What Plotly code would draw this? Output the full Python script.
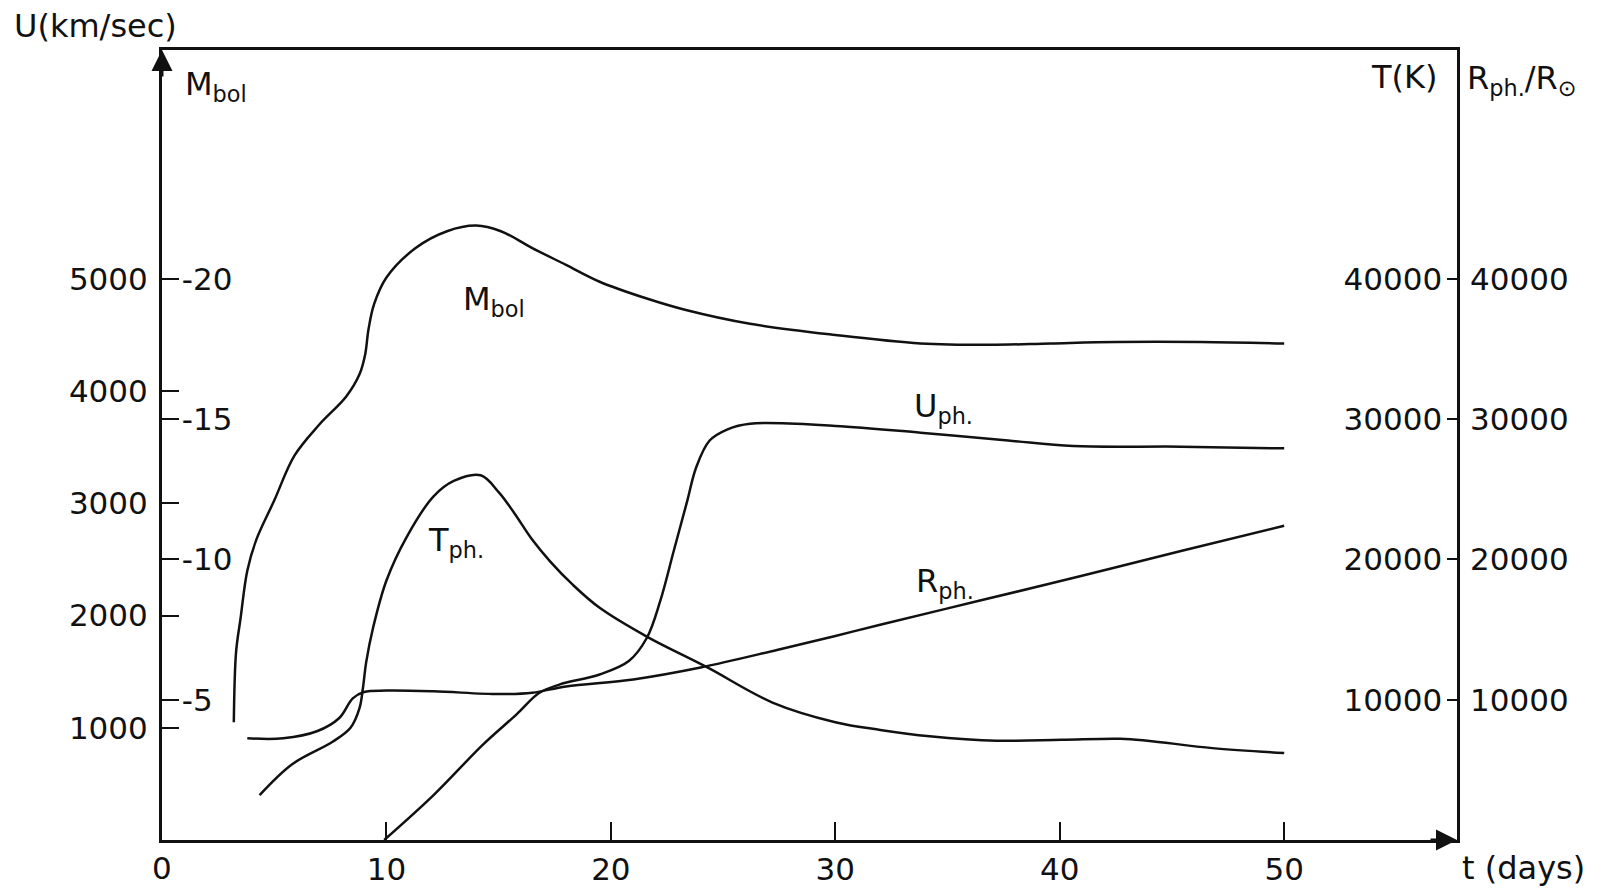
import plotly.graph_objects as go

# tick values
t_ticks = [0, 10, 20, 30, 40, 50]
u_ticks = [1000, 2000, 3000, 4000, 5000]
m_ticks = [-20, -15, -10, -5]
k_ticks = [10000, 20000, 30000, 40000]

# bolometric magnitude M_bol
t_mbol = [3.2, 3.3, 3.5, 3.8, 4.2, 5.0, 5.9, 7.0, 8.2, 8.8, 9.05, 9.2, 9.45, 10.0, 11.3, 12.7, 14.0,
          15.1, 16.5, 18.0, 19.5, 21.6, 23.3, 26.2, 30.0, 33.8, 36.9, 39.6, 42.5, 46.3, 50.0]
mbol = [-4.2, -6.7, -7.9, -9.6, -10.7, -12.1, -13.7, -14.8, -15.8, -16.6, -17.3, -18.2, -19.1, -20.05,
        -21.1, -21.7, -21.9, -21.7, -21.1, -20.5, -19.9, -19.3, -18.9, -18.4, -18.0, -17.7, -17.65,
        -17.7, -17.75, -17.75, -17.7]

# photospheric temperature T_ph (K)
t_temp = [4.35, 5.8, 7.6, 8.4, 8.8, 8.95, 9.1, 9.4, 10.0, 10.9, 12.1, 13.0, 14.2, 15.0, 15.7, 16.5,
          17.3, 18.3, 19.5, 21.6, 24.3, 27.2, 30.0, 32.0, 34.2, 37.2, 40.1, 42.7, 43.9, 46.8, 50.0]
temp = [3200, 5400, 7000, 8000, 9400, 10800, 12700, 15100, 18500, 21600, 24500, 25600, 26000, 24800,
        23300, 21400, 19850, 18200, 16550, 14500, 12300, 9800, 8400, 7850, 7400, 7080, 7150, 7220,
        7080, 6550, 6200]

# photospheric radius R_ph / R_sun
t_rad = [3.8, 5.4, 6.9, 7.9, 8.5, 9.0, 10.0, 12.1, 15.0, 16.5, 18.0, 21.0, 24.0, 27.4, 30.0, 32.0,
         36.4, 40.9, 45.4, 50.0]
rad = [7250, 7250, 7750, 8700, 10100, 10550, 10650, 10600, 10400, 10500, 10950, 11450, 12300, 13550,
       14550, 15350, 17050, 18800, 20600, 22400]

# photospheric velocity U_ph (km/sec)
t_vel = [9.9, 12.1, 14.3, 15.8, 16.8, 17.7, 19.5, 20.8, 21.6, 22.2, 22.8, 23.4, 23.8, 24.4, 25.2,
         26.2, 30.0, 33.8, 37.7, 40.6, 45.4, 50.0]
vel = [0, 400, 850, 1120, 1310, 1385, 1475, 1595, 1800, 2130, 2575, 3020, 3320, 3560, 3660, 3710,
       3690, 3630, 3560, 3510, 3505, 3490]

ink = '#111111'
fnt = 'DejaVu Sans'
t_max = 57.7
u_max = 7040  # top of the box, same height for all four scales
curve = dict(color=ink, width=2.5, shape='spline', smoothing=1.0)

fig = go.Figure()
fig.add_trace(go.Scatter(x=t_mbol, y=mbol, yaxis='y2', mode='lines', line=curve, name='Mbol'))
fig.add_trace(go.Scatter(x=t_temp, y=temp, yaxis='y3', mode='lines', line=curve, name='Tph'))
fig.add_trace(go.Scatter(x=t_rad, y=rad, yaxis='y4', mode='lines', line=curve, name='Rph'))
fig.add_trace(go.Scatter(x=t_vel, y=vel, yaxis='y', mode='lines', line=curve, name='Uph'))

tick_font = dict(family=fnt, size=31, color=ink)

fig.update_layout(
    width=1611,
    height=888,
    showlegend=False,
    paper_bgcolor='white',
    plot_bgcolor='white',
    margin=dict(l=162, r=154, t=50, b=48),
    font=dict(family=fnt, size=31, color=ink),
    xaxis=dict(range=[0, t_max], tickvals=t_ticks[1:], ticks='inside', ticklen=18, tickwidth=2,
               tickcolor=ink, showline=True, linewidth=3, linecolor=ink, mirror=True,
               showgrid=False, zeroline=False, tickfont=tick_font, ticklabelstandoff=0,
               automargin=False),
    yaxis=dict(range=[0, u_max], tickvals=u_ticks, ticks='inside', ticklen=17, tickwidth=2,
               tickcolor=ink, showline=True, linewidth=3, linecolor=ink, mirror=True,
               showgrid=False, zeroline=False, tickfont=tick_font, ticklabelstandoff=5,
               automargin=False),
    yaxis2=dict(range=[0, -u_max / 250], overlaying='y', side='left', anchor='x',
                tickvals=m_ticks, ticktext=[str(m) for m in m_ticks], ticks='inside', ticklen=17,
                tickwidth=2, tickcolor=ink, ticklabelposition='inside', ticklabelstandoff=6,
                showline=False, showgrid=False, zeroline=False, tickfont=tick_font,
                automargin=False),
    yaxis3=dict(range=[0, u_max * 8], overlaying='y', side='right', anchor='x',
                tickvals=k_ticks, ticktext=[str(k) for k in k_ticks], ticks='inside', ticklen=10,
                tickwidth=2, tickcolor=ink, ticklabelposition='inside', ticklabelstandoff=8,
                showline=False, showgrid=False, zeroline=False, tickfont=tick_font,
                automargin=False),
    yaxis4=dict(range=[0, u_max * 8], overlaying='y', side='right', anchor='x',
                tickvals=k_ticks, ticktext=[str(k) for k in k_ticks], ticks='', showline=False,
                showgrid=False, zeroline=False, tickfont=tick_font, ticklabelstandoff=12,
                automargin=False),
)

# axis arrows
fig.add_annotation(x=0, y=u_max, xref='x', yref='y', ax=0, ay=28, text='', showarrow=True,
                   arrowhead=2, arrowsize=1.4, arrowwidth=3, arrowcolor=ink)
fig.add_annotation(x=t_max, y=0, xref='x', yref='y', ax=-28, ay=0, text='', showarrow=True,
                   arrowhead=2, arrowsize=1.4, arrowwidth=3, arrowcolor=ink)

# origin label (plotly drops the tick label sitting on the y axis line)
fig.add_annotation(x=t_ticks[0], y=-0.035, xref='x', yref='paper', text=str(t_ticks[0]),
                   showarrow=False, xanchor='center', yanchor='middle', font=tick_font)

# axis titles
fig.add_annotation(x=-0.116, y=1.03, xref='paper', yref='paper', text='U(km/sec)',
                   showarrow=False, xanchor='left', yanchor='middle', font=dict(size=32))
fig.add_annotation(x=0.016, y=0.955, xref='paper', yref='paper', text='M<sub>bol</sub>',
                   showarrow=False, xanchor='left', yanchor='middle', font=dict(size=32))
fig.add_annotation(x=0.987, y=0.966, xref='paper', yref='paper', text='T(K)',
                   showarrow=False, xanchor='right', yanchor='middle', font=dict(size=32))
fig.add_annotation(x=1.006, y=0.962, xref='paper', yref='paper', text='R<sub>ph.</sub>/R<sub>⊙</sub>',
                   showarrow=False, xanchor='left', yanchor='middle', font=dict(size=32))
fig.add_annotation(x=1.002, y=-0.035, xref='paper', yref='paper', text='t (days)',
                   showarrow=False, xanchor='left', yanchor='middle', font=dict(size=32))

# curve labels
fig.add_annotation(x=13.3, y=4800, xref='x', yref='y', text='M<sub>bol</sub>',
                   showarrow=False, xanchor='left', yanchor='middle', font=dict(size=32))
fig.add_annotation(x=33.4, y=3850, xref='x', yref='y', text='U<sub>ph.</sub>',
                   showarrow=False, xanchor='left', yanchor='middle', font=dict(size=32))
fig.add_annotation(x=11.75, y=2660, xref='x', yref='y', text='T<sub>ph.</sub>',
                   showarrow=False, xanchor='left', yanchor='middle', font=dict(size=32))
fig.add_annotation(x=33.5, y=2290, xref='x', yref='y', text='R<sub>ph.</sub>',
                   showarrow=False, xanchor='left', yanchor='middle', font=dict(size=32))

# page margin off so the fixed-size figure sits at the window's corner
fig.write_html("out.html", config={'displayModeBar': False},
               post_script="document.body.style.margin='0';")
